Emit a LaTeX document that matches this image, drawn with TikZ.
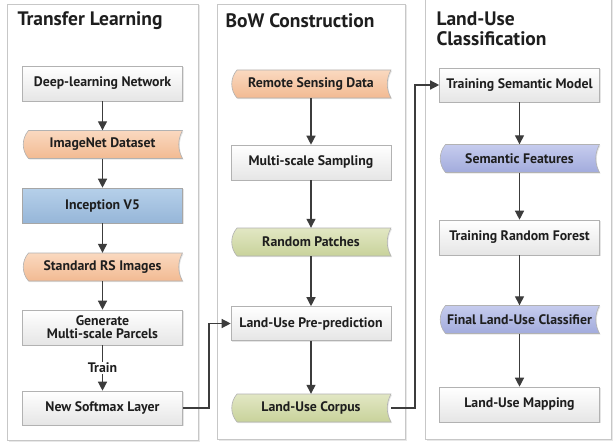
\documentclass[tikz,border=0pt]{standalone}
\usepackage{fontspec}
\setmainfont{PT Sans}
\usetikzlibrary{arrows.meta,shadows,calc}
\definecolor{txt}{HTML}{1E1E1E}
\definecolor{lnk}{HTML}{3C3C3C}
\definecolor{orT}{HTML}{FAD9C0}\definecolor{orB}{HTML}{F2BA92}
\definecolor{grT}{HTML}{E2E7C4}\definecolor{grB}{HTML}{C8D29A}
\definecolor{puT}{HTML}{C6CCEE}\definecolor{puB}{HTML}{A2ABDC}
\definecolor{blT}{HTML}{B6D0EA}\definecolor{blB}{HTML}{96B6D8}
\tikzset{
  panel/.style={draw=black!22, fill=white, line width=0.8pt,
    drop shadow={shadow xshift=1.5pt, shadow yshift=-1.5pt, opacity=0.18}},
  ttl/.style={anchor=west, font=\bfseries\fontsize{19.5}{21}\selectfont, text=txt, align=left},
  procbox/.style={draw=black!30, line width=0.6pt, top color=white, bottom color=black!10,
    minimum width=160pt, minimum height=35pt, inner sep=1pt,
    font=\bfseries\fontsize{13.8}{15}\selectfont, text=txt, align=center,
    drop shadow={shadow xshift=1pt, shadow yshift=-1pt, opacity=0.2}},
  bluebox/.style={procbox, top color=blT, bottom color=blB, draw=black!35},
  dtext/.style={minimum width=160pt, minimum height=28pt, inner sep=1pt,
    font=\bfseries\fontsize{13.8}{15}\selectfont, text=txt},
  arr/.style={draw=lnk, line width=1.3pt, -{Triangle[width=9pt,length=9pt]}},
  lbl/.style={fill=white, inner sep=1.5pt, font=\bfseries\fontsize{13.8}{15}\selectfont, text=txt},
}
% data shape: name, cx, cy, text, topcolor, bottomcolor
\newcommand\datashape[6]{%
  \path[draw=black!30, line width=0.6pt, top color=#5, bottom color=#6,
    drop shadow={shadow xshift=1pt, shadow yshift=-1pt, opacity=0.2}]
    ({#2-74},{#3-14}) -- ({#2+80},{#3-14})
    .. controls ({#2+75},{#3-5}) and ({#2+75},{#3+5}) .. ({#2+80},{#3+14})
    -- ({#2-74},{#3+14})
    .. controls ({#2-81},{#3+6}) and ({#2-81},{#3-6}) .. ({#2-74},{#3-14}) -- cycle;
  \node[dtext] (#1) at (#2,#3) {#4};
}
\begin{document}
\begin{tikzpicture}[x=1pt,y=-1pt]
\useasboundingbox (0,0) rectangle (613,444);
% panels
\path[panel] (7,4) rectangle (198,440);
\path[panel] (217,4) rectangle (405,439);
\path[panel] (425,-3) rectangle (611,439);
\node[ttl] (t1) at (14,21) {Transfer Learning};
\node[ttl] (t2) at (222,21) {BoW Construction};
\node[ttl, font=\bfseries\fontsize{19.5}{20}\selectfont] (t3) at (433,29) {Land-Use\\Classification};
% panel 1
\node[procbox] (deep) at (102.5,83.5) {Deep-learning Network};
\datashape{imgnet}{102.5}{144.5}{ImageNet Dataset}{orT}{orB}
\node[bluebox] (incep) at (102.5,205.5) {Inception V5};
\datashape{stdrs}{102.5}{267}{Standard RS Images}{orT}{orB}
\node[procbox] (gen) at (102.5,327.5) {Generate\\[-2pt]Multi-scale Parcels};
\node[procbox, minimum height=34pt] (soft) at (102.5,408) {New Softmax Layer};
% panel 2
\datashape{rsd}{311}{84}{Remote Sensing Data}{orT}{orB}
\node[procbox] (mss) at (311,162.5) {Multi-scale Sampling};
\datashape{rp}{311}{242}{Random Patches}{grT}{grB}
\node[procbox, minimum height=34pt] (pre) at (311,323.5) {Land-Use Pre-prediction};
\datashape{corpus}{311}{408}{Land-Use Corpus}{grT}{grB}
% panel 3
\node[procbox, minimum height=34pt] (tsm) at (519.5,85) {Training Semantic Model};
\datashape{sf}{519.5}{158.5}{Semantic Features}{puT}{puB}
\node[procbox] (trf) at (519.5,237.5) {Training Random Forest};
\datashape{flc}{519.5}{319.5}{Final Land-Use Classifier}{puT}{puB}
\node[procbox] (lum) at (519.5,404.5) {Land-Use Mapping};
% arrows
\draw[arr] (deep) -- (imgnet);
\draw[arr] (imgnet) -- (incep);
\draw[arr] (incep) -- (stdrs);
\draw[arr] (stdrs) -- (gen);
\draw[arr] (gen) -- node[lbl] (train) {Train} (soft);
\draw[arr] (rsd) -- (mss);
\draw[arr] (mss) -- (rp);
\draw[arr] (rp) -- (pre);
\draw[arr] (pre) -- (corpus);
\draw[arr] (tsm) -- (sf);
\draw[arr] (sf) -- (trf);
\draw[arr] (trf) -- (flc);
\draw[arr] (flc) -- (lum);
\coordinate (j1) at (209,408);
\coordinate (j2) at (415,408);
\draw[arr] (soft.east) -- (j1) |- (pre.west);
\draw[arr] (corpus.east) -- (j2) |- (tsm.west);
\end{tikzpicture}
\end{document}
